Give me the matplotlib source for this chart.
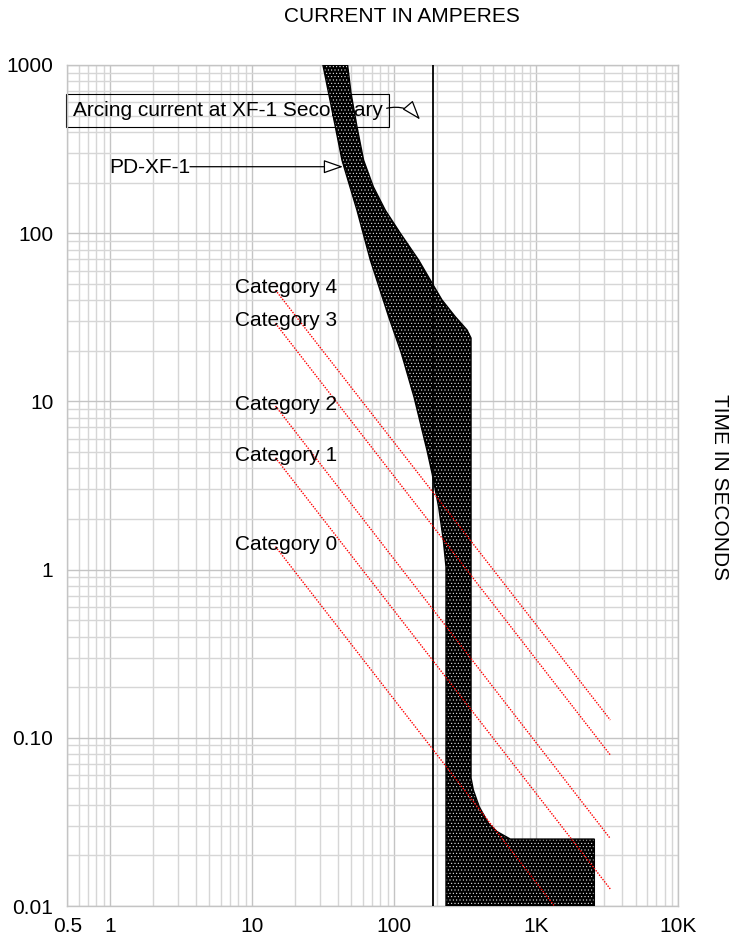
import matplotlib
matplotlib.use('Agg')
import matplotlib.pyplot as plt
from matplotlib.ticker import FixedLocator, LogLocator, NullFormatter

plt.rcParams['font.family'] = ['Liberation Sans', 'DejaVu Sans']
plt.rcParams['hatch.linewidth'] = 0.35

# 读图得到的数据：电流 (A) / 时间 (s)
x_ticks = [0.5, 1, 10, 100, 1000, 10000]
x_tick_labels = ['0.5', '1', '10', '100', '1K', '10K']
y_ticks = [0.01, 0.1, 1, 10, 100, 1000]
y_tick_labels = ['0.01', '0.10', '1', '10', '100', '1000']

# PD-XF-1 保护曲线带：左边界（最小熔断）和右边界（总清除），自上而下
band_left_x = [31.5, 36.5, 42.9, 54.7, 67.9, 91.4, 112, 138, 170, 184.6, 205.4, 221.7, 231.6, 231.6]
band_left_y = [1000, 540, 272, 137, 69.3, 31.9, 19.5, 10.6, 5.14, 3.75, 2.37, 1.50, 1.04, 0.0095]
band_right_x = [47.0, 49.7, 54.7, 60.9, 71.3, 86.6, 110.4, 148.6, 184.6, 217, 269, 325.6, 347.5,
                347.5, 360.6, 397, 460, 529.6, 656.6, 2564, 2564]
band_right_y = [1000, 679, 430, 272, 189, 137, 100, 69.3, 50.6, 40.1, 31.9, 26.6, 23.8,
                0.0577, 0.049, 0.0389, 0.0311, 0.0277, 0.025, 0.025, 0.0095]

arc_current = 188   # XF-1 二次侧电弧电流

cat_labels = ['Category 4', 'Category 3', 'Category 2', 'Category 1', 'Category 0']
cat_label_x = 7.58
cat_label_y = [44.3, 28.1, 8.89, 4.42, 1.31]
cat_start_x = 14.6
cat_end_x = 3320
cat_start_y = [45.9, 29.1, 9.39, 4.62, 1.37]
cat_end_y = [0.1276, 0.0791, 0.0252, 0.01262, 0.00373]

fig = plt.figure(figsize=(7.36, 9.4), dpi=100)
ax = fig.add_axes([67.3 / 736, 34 / 940, 611 / 736, 841 / 940])
ax.set_xscale('log')
ax.set_yscale('log')
ax.set_xlim(0.5, 10000)
ax.set_ylim(0.01, 1000)

ax.xaxis.set_major_locator(FixedLocator(x_ticks))
ax.set_xticklabels(x_tick_labels)
ax.yaxis.set_major_locator(FixedLocator(y_ticks))
ax.set_yticklabels(y_tick_labels)
for axis in (ax.xaxis, ax.yaxis):
    axis.set_minor_locator(LogLocator(base=10, subs=range(1, 10), numticks=20))
    axis.set_minor_formatter(NullFormatter())
ax.tick_params(which='both', length=0, labelsize=15)
ax.tick_params(axis='y', pad=10)
ax.tick_params(axis='x', pad=8)
ax.set_axisbelow(True)
ax.grid(True, which='major', color='#c4c4c4', linewidth=1.0)
ax.grid(True, which='minor', color='#d6d6d6', linewidth=1.0)
for sp in ax.spines.values():
    sp.set_color('#c4c4c4')
    sp.set_linewidth(1.0)

# 曲线带（黑底白点）
poly_x = band_left_x + band_right_x[::-1]
poly_y = band_left_y + band_right_y[::-1]
ax.fill(poly_x, poly_y, facecolor='black', edgecolor='white', hatch='.....', linewidth=0, zorder=3)
ax.fill(poly_x, poly_y, facecolor='none', edgecolor='black', linewidth=1.0, zorder=3.1)

ax.axvline(arc_current, color='black', linewidth=1.3, zorder=4)

for lab, ly, sy, ey in zip(cat_labels, cat_label_y, cat_start_y, cat_end_y):
    ax.plot([cat_start_x, cat_end_x], [sy, ey], color='#ff0000', linewidth=1.0,
            linestyle=(0, (1, 1)), zorder=4)
    ax.text(cat_label_x, ly, lab, fontsize=15, ha='left', va='baseline', zorder=5)

ax.text(0.545, 498, 'Arcing current at XF-1 Secondary', fontsize=15, ha='left', va='baseline',
        bbox=dict(boxstyle='square,pad=0.32', fc='none', ec='black', lw=0.8), zorder=2)
ax.annotate('', xy=(152, 474), xytext=(88.5, 553),
            arrowprops=dict(arrowstyle='-|>,head_length=1.2,head_width=0.42', fc='white', ec='black',
                            lw=0.9, shrinkA=0, shrinkB=0, mutation_scale=10,
                            connectionstyle='arc3,rad=-0.3'), zorder=5)

ax.text(0.988, 227, 'PD-XF-1', fontsize=15, ha='left', va='baseline', zorder=5)
ax.annotate('', xy=(43.6, 248.5), xytext=(3.65, 248.5),
            arrowprops=dict(arrowstyle='-|>,head_length=1.2,head_width=0.42', fc='white', ec='black',
                            lw=0.9, shrinkA=0, shrinkB=0, mutation_scale=10), zorder=5)

fig.text(402 / 736, 1 - 17 / 940, 'CURRENT IN AMPERES', ha='center', va='center', fontsize=15)
fig.text(720 / 736, 1 - 487 / 940, 'TIME IN SECONDS', ha='center', va='center', fontsize=15,
         rotation=270)

fig.savefig('out.png', dpi=100, facecolor='white')
